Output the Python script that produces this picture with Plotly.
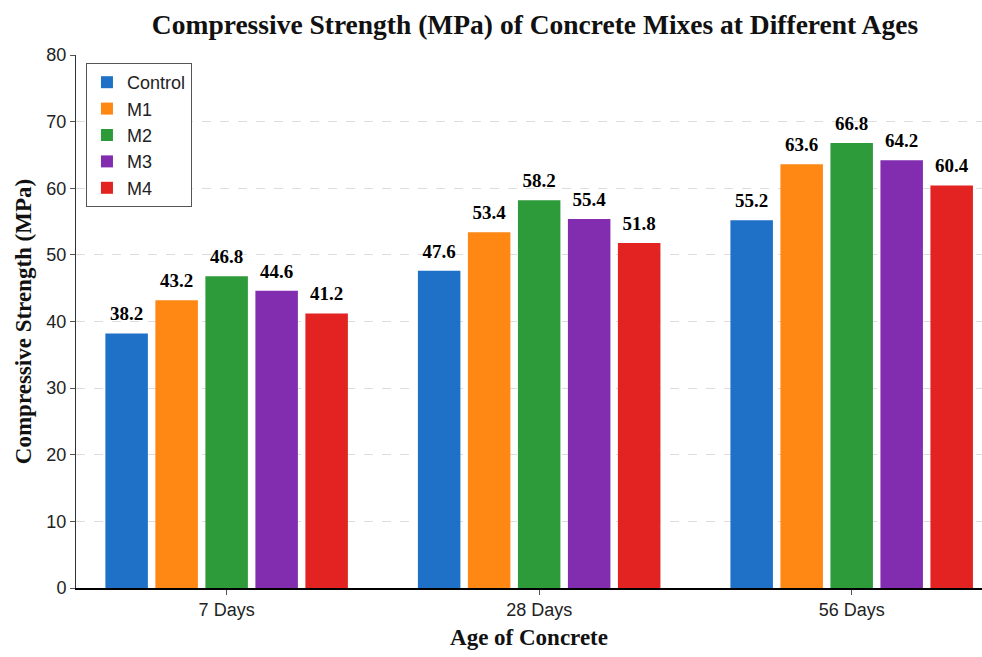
import plotly.graph_objects as go

ages = ["7 Days", "28 Days", "56 Days"]
mixes = ["Control", "M1", "M2", "M3", "M4"]
values = {
    "Control": [38.2, 47.6, 55.2],
    "M1": [43.2, 53.4, 63.6],
    "M2": [46.8, 58.2, 66.8],
    "M3": [44.6, 55.4, 64.2],
    "M4": [41.2, 51.8, 60.4],
}
colors = ["#1f71c8", "#ff8714", "#2e9b3b", "#822db0", "#e22322"]

fig = go.Figure()
for m, c in zip(mixes, colors):
    fig.add_trace(go.Bar(
        x=ages, y=values[m], name=m, marker=dict(color=c, line=dict(width=0)),
        offsetgroup=m,
    ))
for m in mixes:
    fig.add_trace(go.Scatter(
        x=ages, y=values[m], mode="markers+text", showlegend=False, hoverinfo="skip",
        offsetgroup=m, marker=dict(size=12, color="rgba(0,0,0,0)"),
        text=[f"<b>{v:.1f}</b>" for v in values[m]], textposition="top center",
        textfont=dict(family="Liberation Serif", size=19, color="black"),
        cliponaxis=False,
    ))

fig.update_layout(
    width=982, height=657,
    margin=dict(l=76, r=0, t=55, b=69),
    paper_bgcolor="white", plot_bgcolor="white",
    barmode="group", bargap=0.2, bargroupgap=0.15,
    scattermode="group", scattergap=0.2,
    title=dict(text="<b>Compressive Strength (MPa) of Concrete Mixes at Different Ages</b>",
               x=535 / 982, xref="container", xanchor="center", y=1 - 24 / 657, yref="container", yanchor="middle",
               font=dict(family="Liberation Serif", size=27.5, color="#111")),
    legend=dict(x=0.011, y=0.985, xanchor="left", yanchor="top",
                bgcolor="white", bordercolor="#555", borderwidth=1,
                font=dict(family="Liberation Sans", size=18, color="#222"),
                itemwidth=30),
    showlegend=True,
)
fig.update_xaxes(
    range=[-0.482, 2.417], showline=True, linecolor="black", linewidth=1.5,
    ticks="outside", ticklen=5, tickcolor="#555", showgrid=False,
    tickfont=dict(family="Liberation Sans", size=18, color="#222"),
    title=dict(text="<b>Age of Concrete</b>", standoff=10,
               font=dict(family="Liberation Serif", size=23, color="#111")),
)
fig.update_yaxes(
    range=[0, 80], dtick=10, showline=True, linecolor="#333", linewidth=1,
    ticks="outside", ticklen=5, tickcolor="#555",
    showgrid=True, gridcolor="#dddddd", griddash="dash", gridwidth=1,
    zeroline=False,
    tickfont=dict(family="Liberation Sans", size=18, color="#222"),
    title=dict(text="<b>Compressive Strength (MPa)</b>", standoff=8,
               font=dict(family="Liberation Serif", size=23, color="#111")),
)

fig.write_html(
    "out.html",
    config={"displayModeBar": False},
    post_script="document.body.style.margin='0';document.body.style.overflow='hidden';",
)
